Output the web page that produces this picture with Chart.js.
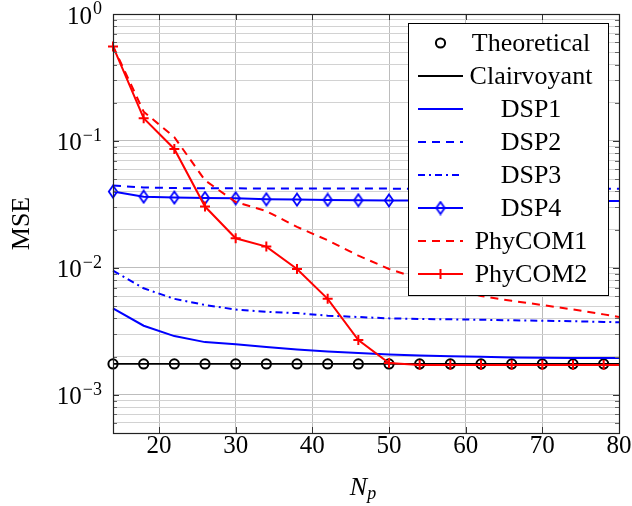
<!DOCTYPE html>
<html><head><meta charset="utf-8">
<script src="https://cdn.jsdelivr.net/npm/chart.js@4.4.0/dist/chart.umd.min.js"></script>
<style>html,body{margin:0;padding:0;background:#fff}</style>
</head><body>
<canvas id="c" width="632" height="506"></canvas>
<script>
// ---- data ----
const markerNp = [14,18,22,26,30,34,38,42,46,50,54,58,62,66,70,74,78];
const lineNp   = [14,18,22,26,30,34,38,42,46,50,54,58,62,66,70,74,78,80];
const theoretical = [0.00175,0.00175,0.00175,0.00175,0.00175,0.00175,0.00175,0.00175,0.00175,0.00175,0.00175,0.00175,0.00175,0.00175,0.00175,0.00175,0.00175];
const clairvoyant = [0.00175,0.00175,0.00175,0.00175,0.00175,0.00175,0.00175,0.00175,0.00175,0.00175,0.00175,0.00175,0.00175,0.00175,0.00175,0.00175,0.00175,0.00175];
const dsp1 = [0.0048,0.0035,0.0029,0.0026,0.0025,0.00238,0.00227,0.00219,0.00213,0.00208,0.00204,0.00201,0.00199,0.00197,0.00196,0.00195,0.00195,0.00195];
const dsp2 = [0.0445,0.0430,0.0425,0.0424,0.0423,0.0422,0.0422,0.0421,0.0421,0.0421,0.0420,0.0420,0.0420,0.0420,0.0420,0.0420,0.0420,0.0420];
const dsp3 = [0.0095,0.0069,0.0057,0.0051,0.0047,0.0045,0.0044,0.0042,0.0041,0.0040,0.00396,0.00393,0.0039,0.00386,0.00383,0.0038,0.00375,0.00373];
const dsp4 = [0.0399,0.0364,0.0358,0.0355,0.0353,0.0347,0.0345,0.0343,0.0341,0.0340,0.0339,0.0339,0.0338,0.0338,0.0337,0.0337,0.0336,0.0336];
const phycom1 = [0.56,0.17,0.107,0.049,0.033,0.028,0.021,0.0165,0.0125,0.0098,0.0082,0.0070,0.0060,0.0055,0.0051,0.0047,0.0043,0.0041];
const phycom2 = [0.555,0.151,0.0865,0.0304,0.0171,0.0147,0.0098,0.0057,0.0027,0.00178,0.00172,0.00172,0.00172,0.00172,0.00172,0.00172,0.00172,0.00172];
const seriesLabels = ['Theoretical','Clairvoyant','DSP1','DSP2','DSP3','DSP4','PhyCOM1','PhyCOM2'];
const xTicks = [20,30,40,50,60,70,80];
const yDecades = [-3,-2,-1,0];
const yMin = 5e-4, yMax = 1;
const xTitle = 'N', xTitleSub = 'p', yTitle = 'MSE';

// ---- helpers ----
const BLUE = '#0000ff', RED = '#ff0000', BLACK = '#000000';
const SERIF = '"Liberation Serif", "Times New Roman", serif';
const yGrid = [];
for (let e = -4; e <= 0; e++) for (let m = 1; m <= 9; m++) {
  const v = Number((m * Math.pow(10, e)).toPrecision(3));
  if (v >= yMin - 1e-12 && v <= yMax + 1e-12) yGrid.push(v);
}
const isMajor = v => Math.abs(Math.log10(v) - Math.round(Math.log10(v))) < 1e-9;
const pts = (xs, ys) => xs.map((x, i) => ({x, y: ys[i]}));

const diamond = (() => {
  const c = document.createElement('canvas'); c.width = 12; c.height = 15;
  const g = c.getContext('2d');
  g.strokeStyle = BLUE; g.lineWidth = 1.8;
  g.beginPath(); g.moveTo(6, 1.5); g.lineTo(10.2, 7.5); g.lineTo(6, 13.5); g.lineTo(1.8, 7.5); g.closePath();
  g.stroke();
  return c;
})();

const noLast = r => ctx => (ctx.raw && ctx.raw.x > 78 ? 0 : r);

const datasets = [
  {label: seriesLabels[0], data: pts(markerNp, theoretical), showLine: false, borderColor: BLACK, backgroundColor: 'rgba(0,0,0,0)', pointStyle: 'circle', pointRadius: 4.6, borderWidth: 2, pointBorderWidth: 2},
  {label: seriesLabels[1], data: pts(lineNp, clairvoyant), borderColor: BLACK, borderWidth: 1.8, pointRadius: 0},
  {label: seriesLabels[2], data: pts(lineNp, dsp1), borderColor: BLUE, borderWidth: 2, pointRadius: 0},
  {label: seriesLabels[3], data: pts(lineNp, dsp2), borderColor: BLUE, borderWidth: 2, borderDash: [8, 6], pointRadius: 0},
  {label: seriesLabels[4], data: pts(lineNp, dsp3), borderColor: BLUE, borderWidth: 2, borderDash: [7, 4, 2, 4], pointRadius: 0},
  {label: seriesLabels[5], data: pts(lineNp, dsp4), borderColor: BLUE, borderWidth: 2, pointStyle: diamond, pointRadius: noLast(5)},
  {label: seriesLabels[6], data: pts(lineNp, phycom1), borderColor: RED, borderWidth: 2, borderDash: [8, 6], pointRadius: 0},
  {label: seriesLabels[7], data: pts(lineNp, phycom2), borderColor: RED, borderWidth: 2, pointStyle: 'cross', pointRadius: noLast(5), pointBorderWidth: 2}
];
datasets.forEach((d, i) => { d.order = datasets.length - i; d.clip = false; d.tension = 0; d.fill = false; });

const decor = {
  id: 'decor',
  afterDraw(chart) {
    const {ctx, chartArea: a, scales: {x, y}} = chart;
    ctx.save();
    // inside ticks
    ctx.lineWidth = 1;
    yGrid.forEach(v => {
      const py = Math.round(y.getPixelForValue(v)) + 0.5;
      const len = isMajor(v) ? 6 : 4;
      ctx.strokeStyle = isMajor(v) ? '#333' : '#666';
      ctx.beginPath();
      ctx.moveTo(a.left, py); ctx.lineTo(a.left + len, py);
      ctx.moveTo(a.right, py); ctx.lineTo(a.right - len, py);
      ctx.stroke();
    });
    ctx.strokeStyle = '#333';
    xTicks.forEach(v => {
      const px = Math.round(x.getPixelForValue(v)) + 0.5;
      ctx.beginPath();
      ctx.moveTo(px, a.bottom); ctx.lineTo(px, a.bottom - 6);
      ctx.moveTo(px, a.top); ctx.lineTo(px, a.top + 6);
      ctx.stroke();
    });
    // frame
    ctx.strokeStyle = '#222'; ctx.lineWidth = 1.2;
    ctx.strokeRect(Math.round(a.left) + 0.5, Math.round(a.top) + 0.5, Math.round(a.right - a.left), Math.round(a.bottom - a.top));
    // x tick labels
    ctx.fillStyle = '#000';
    ctx.font = '25px ' + SERIF;
    ctx.textAlign = 'center'; ctx.textBaseline = 'middle';
    xTicks.forEach(v => ctx.fillText(String(v), x.getPixelForValue(v), a.bottom + 13));
    // y tick labels 10^e
    yDecades.forEach(e => {
      const py = y.getPixelForValue(Math.pow(10, e));
      const expTxt = e < 0 ? '\u2212' + Math.abs(e) : String(e);
      ctx.font = '18px ' + SERIF;
      const w = ctx.measureText(expTxt).width;
      const right = 102;
      ctx.textAlign = 'left'; ctx.textBaseline = 'middle';
      ctx.fillText(expTxt, right - w, py - 5);
      ctx.font = '25px ' + SERIF;
      ctx.textAlign = 'right';
      ctx.fillText('10', right - w - 1, py + 3);
    });
    // y title
    ctx.save();
    ctx.translate(22, (a.top + a.bottom) / 2);
    ctx.rotate(-Math.PI / 2);
    ctx.font = '26px ' + SERIF; ctx.textAlign = 'center'; ctx.textBaseline = 'middle';
    ctx.fillText(yTitle, 0, 0);
    ctx.restore();
    // x title N_p
    ctx.font = 'italic 26px ' + SERIF;
    const wN = ctx.measureText(xTitle).width;
    ctx.font = 'italic 18px ' + SERIF;
    const wp = ctx.measureText(xTitleSub).width;
    const cx = (a.left + a.right) / 2 - 3;
    const x0 = cx - (wN + wp) / 2;
    ctx.textAlign = 'left'; ctx.textBaseline = 'alphabetic';
    ctx.font = 'italic 26px ' + SERIF;
    ctx.fillText(xTitle, x0, 495);
    ctx.font = 'italic 18px ' + SERIF;
    ctx.fillText(xTitleSub, x0 + wN, 499);
    // legend
    const L = {x: 408.5, y: 23.5, w: 200, h: 272};
    ctx.fillStyle = '#fff';
    ctx.fillRect(L.x, L.y, L.w, L.h);
    ctx.strokeStyle = '#000'; ctx.lineWidth = 1;
    ctx.strokeRect(L.x, L.y, L.w, L.h);
    const metas = chart.data.datasets;
    metas.forEach((d, i) => {
      const ry = 43 + i * 33;
      const sx0 = 418, sx1 = 463, sm = (sx0 + sx1) / 2;
      if (d.showLine !== false) {
        ctx.save();
        ctx.strokeStyle = d.borderColor; ctx.lineWidth = d.borderWidth;
        ctx.setLineDash(d.borderDash || []);
        ctx.beginPath(); ctx.moveTo(sx0, ry); ctx.lineTo(sx1, ry); ctx.stroke();
        ctx.restore();
      }
      if (d.pointStyle === 'circle') {
        ctx.strokeStyle = d.borderColor; ctx.lineWidth = 2;
        ctx.beginPath(); ctx.arc(sm, ry, 4.6, 0, Math.PI * 2); ctx.stroke();
      } else if (d.pointStyle === 'cross') {
        ctx.strokeStyle = d.borderColor; ctx.lineWidth = 2;
        ctx.beginPath(); ctx.moveTo(sm - 5, ry); ctx.lineTo(sm + 5, ry); ctx.moveTo(sm, ry - 5); ctx.lineTo(sm, ry + 5); ctx.stroke();
      } else if (d.pointStyle && d.pointStyle.getContext) {
        ctx.drawImage(d.pointStyle, sm - d.pointStyle.width / 2, ry - d.pointStyle.height / 2);
      }
      ctx.fillStyle = '#000';
      ctx.font = '26px ' + SERIF; ctx.textAlign = 'center'; ctx.textBaseline = 'middle';
      ctx.fillText(d.label, 531, ry + 1);
    });
    ctx.restore();
  }
};

new Chart(document.getElementById('c'), {
  type: 'line',
  data: {datasets},
  options: {
    responsive: false, animation: false, events: [],
    layout: {padding: {top: 14, right: 13, left: 0, bottom: 0}},
    plugins: {legend: {display: false}, tooltip: {enabled: false}},
    scales: {
      x: {
        type: 'linear', min: 14, max: 80,
        afterBuildTicks: s => { s.ticks = xTicks.map(v => ({value: v})); },
        afterFit: s => { s.height = 73; },
        ticks: {display: false},
        grid: {color: '#bcbcbc', lineWidth: 1, drawTicks: false},
        border: {display: false}
      },
      y: {
        type: 'logarithmic', min: yMin, max: yMax,
        afterBuildTicks: s => { s.ticks = yGrid.map(v => ({value: v})); },
        afterFit: s => { s.width = 113; },
        ticks: {display: false},
        grid: {color: c => (c.tick && isMajor(c.tick.value) ? '#bdbdbd' : '#d2d2d2'), lineWidth: 1, drawTicks: false},
        border: {display: false}
      }
    }
  },
  plugins: [decor]
});
</script>
</body></html>
